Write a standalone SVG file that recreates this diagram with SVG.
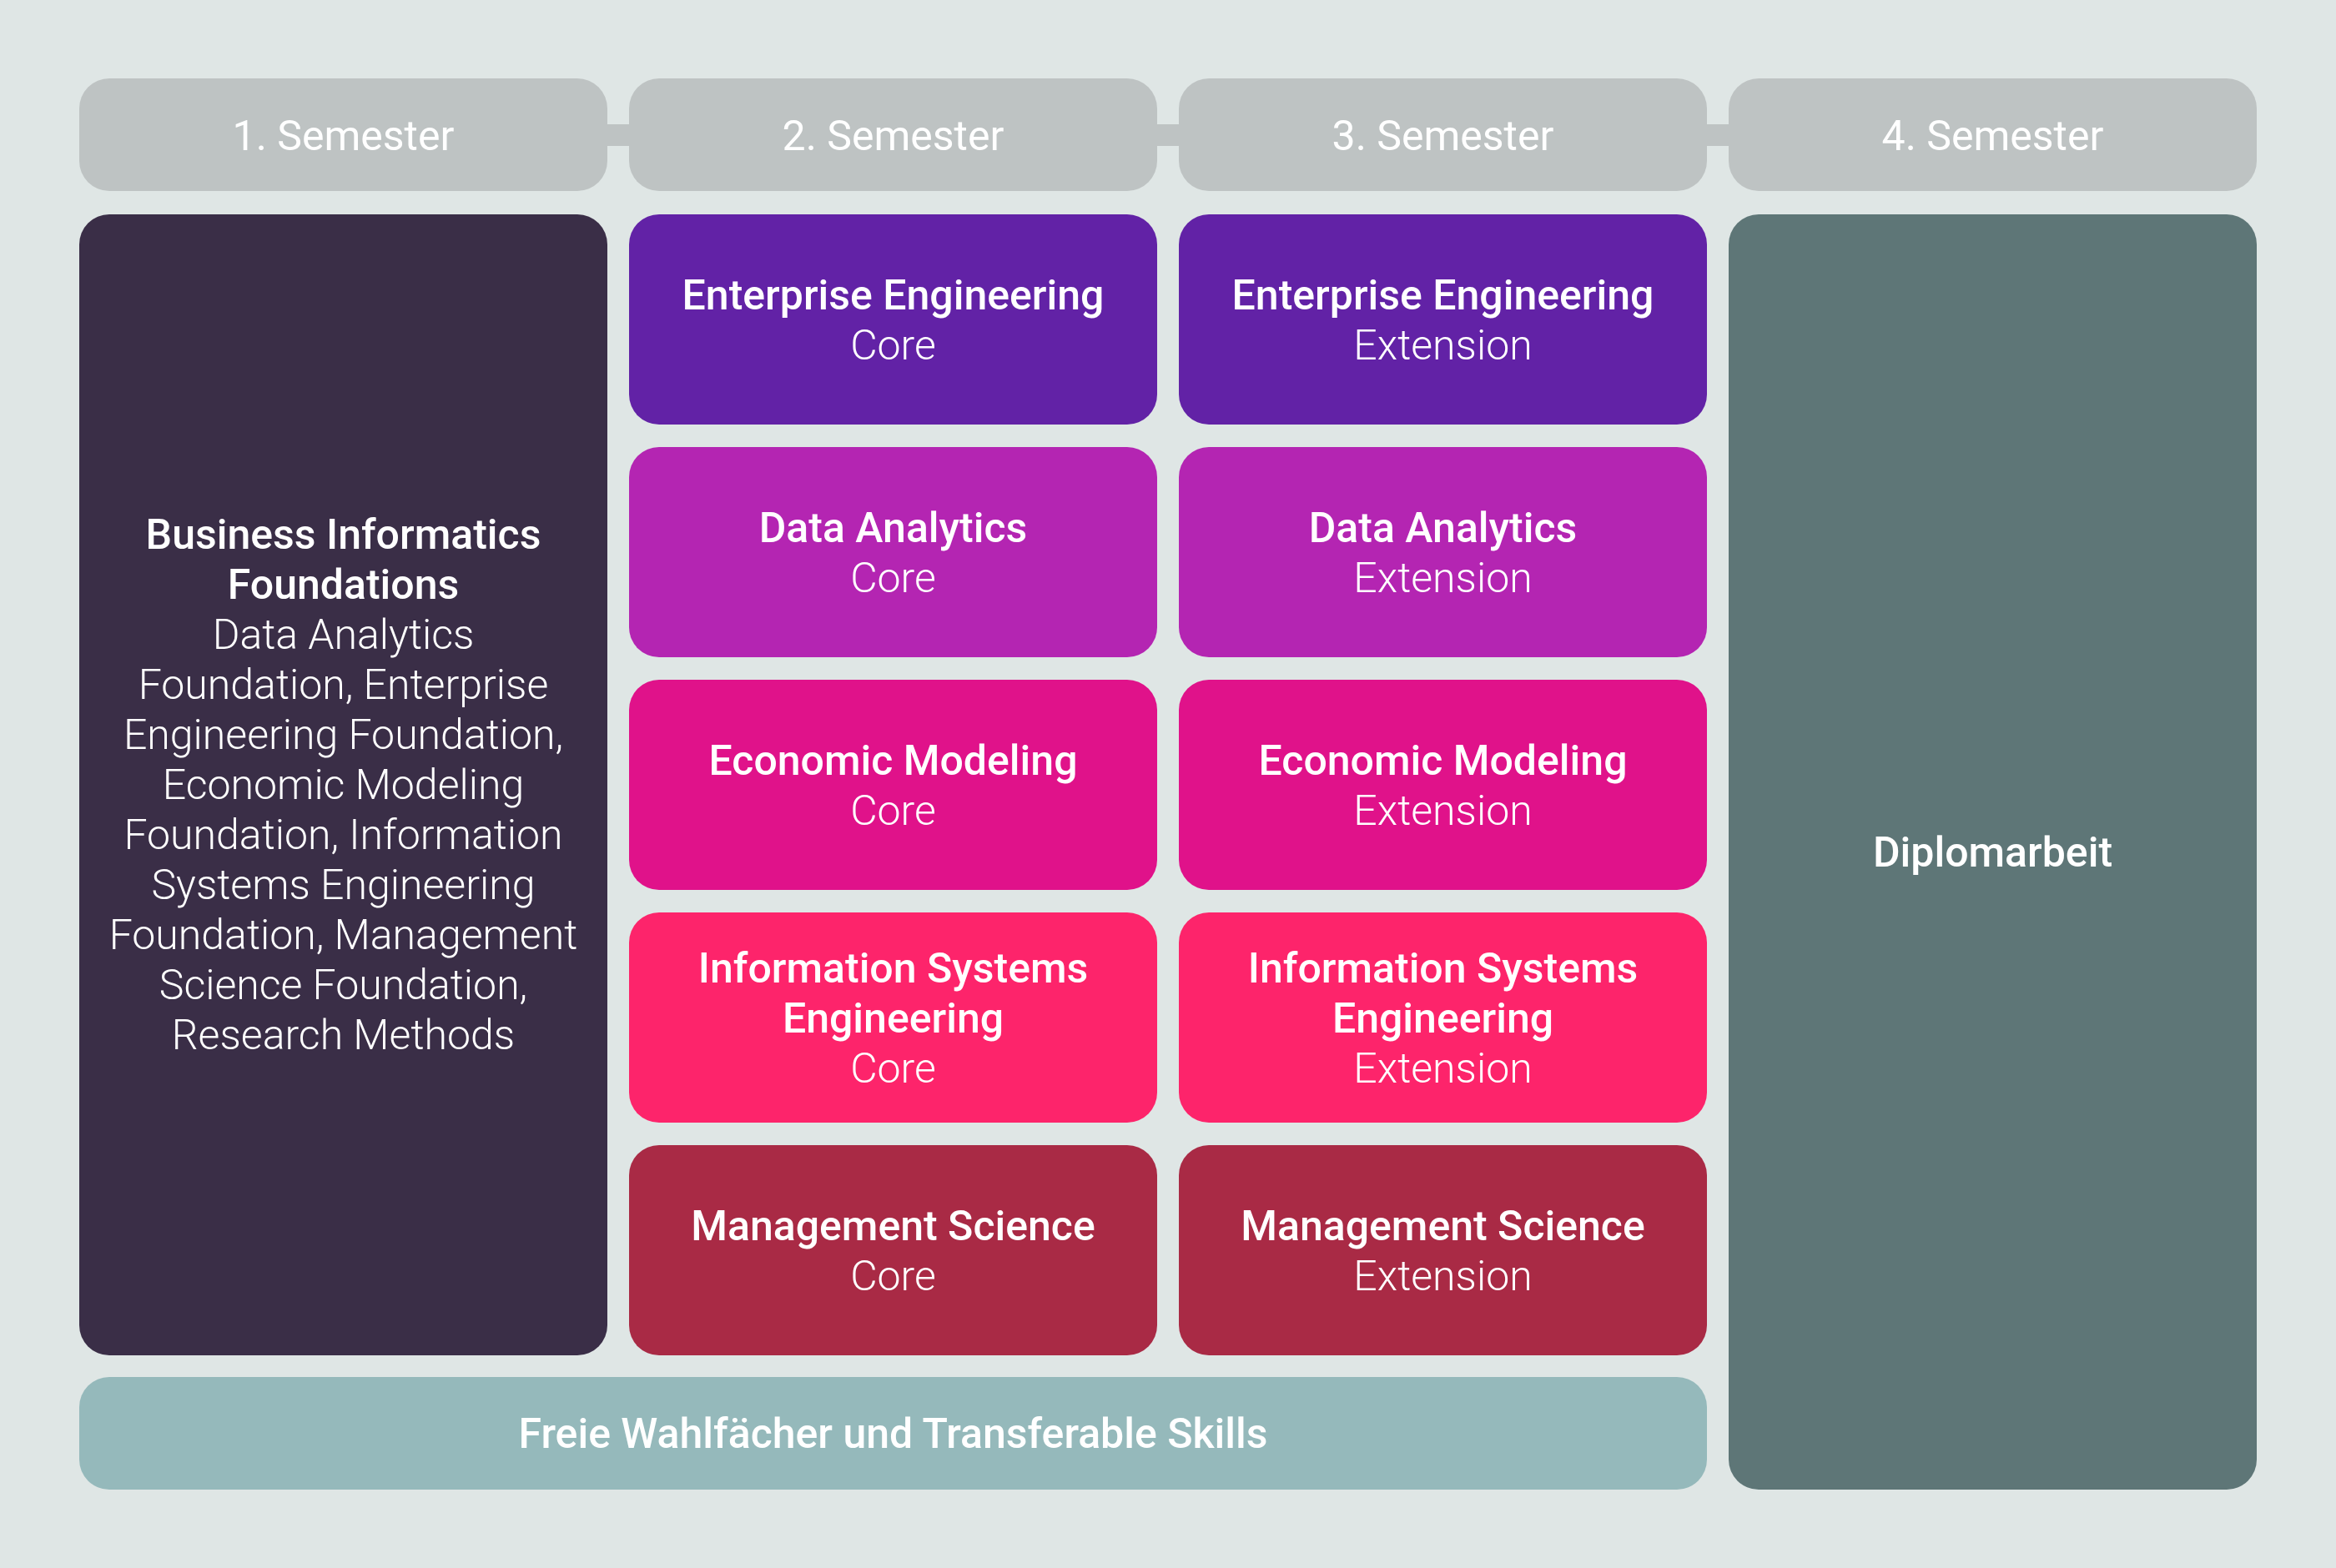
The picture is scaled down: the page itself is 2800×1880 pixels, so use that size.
<svg xmlns="http://www.w3.org/2000/svg" width="2800" height="1880" viewBox="0 0 2800 1880">
<style>
.t{font-family:Roboto,"Liberation Sans",sans-serif;fill:#ffffff;text-anchor:middle;font-size:50px}
.b{font-weight:500}
.l{font-weight:300}
.h{font-weight:400}
.hdr{fill:#bec3c3}
</style>
<rect x="0" y="0" width="2800" height="1880" fill="#dfe6e5"/>
<g id="connectors">
<rect class="hdr" x="718" y="149" width="46" height="26"/>
<rect class="hdr" x="1377" y="149" width="46" height="26"/>
<rect class="hdr" x="2036" y="149" width="46" height="26"/>
</g>
<g id="sem1"><rect class="hdr" x="95" y="94" width="633" height="135" rx="36"/><text class="t h" x="411.5" y="180">1. Semester</text></g>
<g id="sem2"><rect class="hdr" x="754" y="94" width="633" height="135" rx="36"/><text class="t h" x="1070.5" y="180">2. Semester</text></g>
<g id="sem3"><rect class="hdr" x="1413" y="94" width="633" height="135" rx="36"/><text class="t h" x="1729.5" y="180">3. Semester</text></g>
<g id="sem4"><rect class="hdr" x="2072" y="94" width="633" height="135" rx="36"/><text class="t h" x="2388.5" y="180">4. Semester</text></g>

<g id="foundations"><rect x="95" y="257" width="633" height="1368" rx="36" fill="#3a2e47"/>
<text class="t b" x="411.5" y="658">Business Informatics</text>
<text class="t b" x="411.5" y="718">Foundations</text>
<text class="t l" x="411.5" y="778">Data Analytics</text>
<text class="t l" x="411.5" y="838">Foundation, Enterprise</text>
<text class="t l" x="411.5" y="898">Engineering Foundation,</text>
<text class="t l" x="411.5" y="958">Economic Modeling</text>
<text class="t l" x="411.5" y="1018">Foundation, Information</text>
<text class="t l" x="411.5" y="1078">Systems Engineering</text>
<text class="t l" x="411.5" y="1138">Foundation, Management</text>
<text class="t l" x="411.5" y="1198">Science Foundation,</text>
<text class="t l" x="411.5" y="1258">Research Methods</text>
</g>

<g id="ee-core"><rect x="754" y="257" width="633" height="252" rx="36" fill="#6222a6"/>
<text class="t b" x="1070.5" y="371">Enterprise Engineering</text><text class="t l" x="1070.5" y="431">Core</text></g>
<g id="ee-ext"><rect x="1413" y="257" width="633" height="252" rx="36" fill="#6222a6"/>
<text class="t b" x="1729.5" y="371">Enterprise Engineering</text><text class="t l" x="1729.5" y="431">Extension</text></g>

<g id="da-core"><rect x="754" y="536" width="633" height="252" rx="36" fill="#b425b2"/>
<text class="t b" x="1070.5" y="650">Data Analytics</text><text class="t l" x="1070.5" y="710">Core</text></g>
<g id="da-ext"><rect x="1413" y="536" width="633" height="252" rx="36" fill="#b425b2"/>
<text class="t b" x="1729.5" y="650">Data Analytics</text><text class="t l" x="1729.5" y="710">Extension</text></g>

<g id="em-core"><rect x="754" y="815" width="633" height="252" rx="36" fill="#e0128a"/>
<text class="t b" x="1070.5" y="929">Economic Modeling</text><text class="t l" x="1070.5" y="989">Core</text></g>
<g id="em-ext"><rect x="1413" y="815" width="633" height="252" rx="36" fill="#e0128a"/>
<text class="t b" x="1729.5" y="929">Economic Modeling</text><text class="t l" x="1729.5" y="989">Extension</text></g>

<g id="ise-core"><rect x="754" y="1094" width="633" height="252" rx="36" fill="#fd246b"/>
<text class="t b" x="1070.5" y="1178">Information Systems</text><text class="t b" x="1070.5" y="1238">Engineering</text><text class="t l" x="1070.5" y="1298">Core</text></g>
<g id="ise-ext"><rect x="1413" y="1094" width="633" height="252" rx="36" fill="#fd246b"/>
<text class="t b" x="1729.5" y="1178">Information Systems</text><text class="t b" x="1729.5" y="1238">Engineering</text><text class="t l" x="1729.5" y="1298">Extension</text></g>

<g id="ms-core"><rect x="754" y="1373" width="633" height="252" rx="36" fill="#a92a45"/>
<text class="t b" x="1070.5" y="1487">Management Science</text><text class="t l" x="1070.5" y="1547">Core</text></g>
<g id="ms-ext"><rect x="1413" y="1373" width="633" height="252" rx="36" fill="#a92a45"/>
<text class="t b" x="1729.5" y="1487">Management Science</text><text class="t l" x="1729.5" y="1547">Extension</text></g>

<g id="freie"><rect x="95" y="1651" width="1951" height="135" rx="36" fill="#95b9bb"/>
<text class="t b" x="1070.5" y="1736">Freie Wahlfächer und Transferable Skills</text></g>

<g id="diplomarbeit"><rect x="2072" y="257" width="633" height="1529" rx="36" fill="#5e7677"/>
<text class="t b" x="2388.5" y="1039">Diplomarbeit</text></g>
</svg>
